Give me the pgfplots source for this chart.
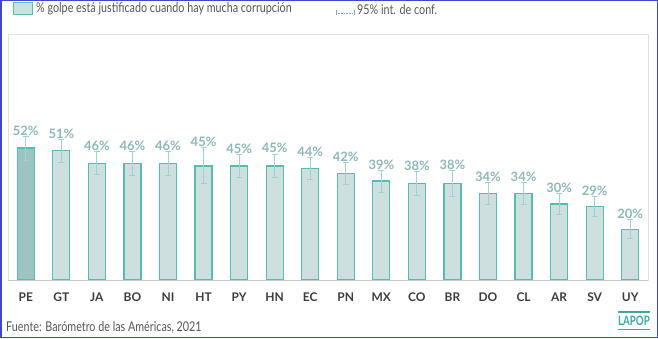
\documentclass[border=0pt]{standalone}
\usepackage{pgfplots}
\pgfplotsset{compat=1.18}
\usepackage{pgfplotstable}
\usepackage{fontspec}
\setmainfont{Lato}
\definecolor{barfill}{HTML}{CDE0DF}
\definecolor{barfillpe}{HTML}{9DC3C2}
\definecolor{baredge}{HTML}{56BCB2}
\definecolor{errcol}{HTML}{9ED4CF}
\definecolor{lblcol}{HTML}{8DB7B6}
\definecolor{tickcol}{HTML}{3C3C3C}
\definecolor{framecol}{HTML}{E2E2E2}
\definecolor{bordercol}{HTML}{3F48CC}
\definecolor{srccol}{HTML}{555555}
\definecolor{logocol}{HTML}{3AA9A0}
\pgfplotstableread{
x y e lab
0 52 4.7 PE
1 51 4.5 GT
2 46 4.5 JA
3 46 4.6 BO
4 46 4.8 NI
5 45 7.1 HT
6 45 4.6 PY
7 45 4.7 HN
8 44 4.4 EC
9 42 4.2 PN
10 39 4.3 MX
11 38 4.7 CO
12 38 5.2 BR
13 34 4.4 DO
14 34 4.3 CL
15 30 4.3 AR
16 29 4.1 SV
17 20 3.8 UY
}\data
\begin{document}
\begin{tikzpicture}[x=1bp,y=1bp]
\useasboundingbox (0,0) rectangle (658,338);
\draw[bordercol, line width=1.5bp] (0.75,0.75) rectangle (657.25,337.25);
\begin{axis}[at={(8bp,58bp)}, anchor=south west, scale only axis,
  width=640bp, height=246bp, xmin=-0.5, xmax=17.5, ymin=0, ymax=97,
  axis line style={framecol, line width=0.8bp},
  ytick=\empty, xtick={0,...,17},
  xticklabels={PE,GT,JA,BO,NI,HT,PY,HN,EC,PN,MX,CO,BR,DO,CL,AR,SV,UY},
  major tick length=0pt,
  xticklabel style={font=\bfseries\fontsize{12}{12}\selectfont, text=tickcol, yshift=-9bp},
  clip=false]
\addplot[ybar, bar width=17bp, bar shift=0pt, fill=barfill, draw=baredge, line width=1.3bp] table[x=x,y=y]{\data};
\addplot[ybar, bar width=17bp, bar shift=0pt, fill=barfillpe, draw=baredge, line width=1.3bp] coordinates {(0,52)};
\addplot[draw=none, mark=none, error bars/.cd, y dir=both, y explicit,
  error bar style={draw=errcol, line width=0.9bp},
  error mark options={rotate=90, draw=errcol, mark size=3bp, line width=0.9bp}]
  table[x=x, y=y, y error=e]{\data};
\addplot[draw=none, mark=none, point meta=explicit,
  nodes near coords={\pgfmathprintnumber[assume math mode=true]{\pgfplotspointmeta}\%},
  nodes near coords style={font=\bfseries\fontsize{13}{13}\selectfont, text=lblcol, anchor=base, yshift=1bp}]
  table[x=x, y expr=\thisrow{y}+\thisrow{e}, meta=y]{\data};
\draw[black!22, line width=1bp] (rel axis cs:0,0) -- (rel axis cs:1,0);
\end{axis}
% legend
\fill[barfill] (13,323) rectangle (32,335);
\draw[baredge, line width=1bp] (13,323) rectangle (32,335);
\node[anchor=west, inner sep=0, font=\fontsize{13.5}{13}\selectfont, text=srccol] at (36,329) {\scalebox{0.8}[1]{\% golpe está justificado cuando hay mucha corrupción}};
\draw[errcol!80!black, line width=0.6bp, densely dotted] (336,325) -- (354,325);
\draw[errcol!80!black, line width=0.6bp] (336,322.5) -- (336,327.5) (354,322.5) -- (354,327.5);
\node[anchor=west, inner sep=0, font=\fontsize{13.5}{13}\selectfont, text=srccol] at (357,328) {\scalebox{0.8}[1]{95\% int. de conf.}};
% source
\node[anchor=west, inner sep=0, font=\fontsize{13.5}{13}\selectfont, text=srccol] at (6,11) {\scalebox{0.8}[1]{Fuente: Barómetro de las Américas, 2021}};
% logo
\draw[logocol, line width=1.3bp] (618,26) -- (650,26) (618,8.5) -- (650,8.5);
\node[inner sep=0, text=logocol, font=\bfseries\fontsize{13}{13}\selectfont] at (634,17.3) {\scalebox{0.75}[1]{LAPOP}};
\end{tikzpicture}
\end{document}
